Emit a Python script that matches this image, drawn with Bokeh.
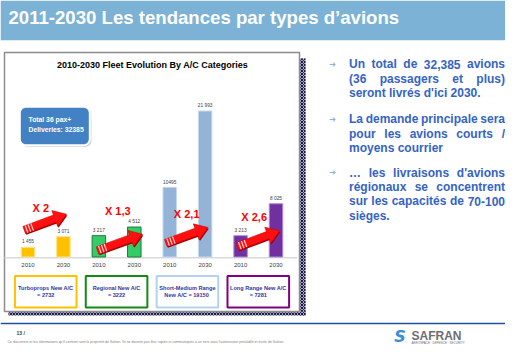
import math
from bokeh.plotting import figure
from bokeh.models import Range1d
from bokeh.core.properties import value
from bokeh.embed import file_html
from bokeh.resources import INLINE

# ---------------- data ----------------
categories = ["Turboprops", "Regional", "Short-Medium Range", "Long Range"]
years = ["2010", "2030"]
fleet_2010 = [1455, 3217, 10495, 3213]
fleet_2030 = [3071, 4512, 21993, 8025]
labels_2010 = ["1 455", "3 217", "10495", "3 213"]
labels_2030 = ["3 071", "4 512", "21 993", "8 025"]
growth_labels = ["X 2", "X 1,3", "X 2,1", "X 2,6"]
box_line1 = ["Turboprops New A/C", "Regional New A/C", "Short-Medium Range", "Long Range New A/C"]
box_line2 = ["= 2732", "= 3222", "New A/C  = 19150", "= 7281"]
total_text = ["Total 36 pax+", "Deliveries: 32385"]
slide_title = "2011-2030 Les tendances par types d\u2019avions"
chart_title = "2010-2030 Fleet Evolution By A/C Categories"
bullets = [
    ["Un total de 32,385 avions", "(36 passagers et plus)", "seront livrés d'ici 2030."],
    ["La demande principale sera", "pour les avions courts /", "moyens courrier"],
    ["\u2026 les livraisons d'avions", "régionaux se concentrent", "sur les capacités de 70-100", "sièges."],
]
page_number = "13 /"
disclaimer = ("Ce document et les informations qu'il contient sont la propriété de Safran. "
              "Ils ne doivent pas être copiés ni communiqués à un tiers sans l'autorisation préalable et écrite de Safran.")

# ---------------- styles / layout ----------------
FONT = value("Liberation Sans")
fill_colors = ["#FFC000", "#33CC66", "#95B3D7", "#7030A0"]
edge_colors = ["#FFE38A", "#1E7B3A", "#C5D9F1", "#B48CD2"]
box_colors = ["#FFC000", "#138A13", "#B4D2F0", "#800080"]
TEXT_BLUE = "#3563C4"

W, H = 505, 344
p = figure(width=W, height=H, x_range=Range1d(8, 8 + W), y_range=Range1d(8 + H, 8),
           output_backend="svg", toolbar_location=None, min_border=0,
           x_axis_location=None, y_axis_location=None, outline_line_color=None,
           background_fill_color="white", border_fill_color="white")
p.grid.visible = False

# header band + title
p.quad(left=8, right=8 + W, top=8, bottom=47.7, fill_color="#7BB2D5", line_color=None)
p.text(x=[16], y=[24.5], text=[slide_title], text_font=FONT, text_font_style="bold",
       text_font_size="18.6px", text_color="white", text_baseline="middle", text_align="left")

# chart panel with dotted shadow
p.quad(left=[307, 16], right=[313, 313], top=[66, 319], bottom=[323, 323],
       fill_color="#A8A8BC", line_color=None, hatch_pattern="x", hatch_color="#1A1A48",
       hatch_scale=3, hatch_weight=1)
p.quad(left=12, right=307, top=60, bottom=319, fill_color="white", line_color="#8C8C8C", line_width=1.5)
p.text(x=[160], y=[72], text=[chart_title], text_font=FONT, text_font_style="bold",
       text_font_size="9px", text_color="black", text_baseline="middle", text_align="center")

# rounded "total" box
def rounded_rect(l, r, t, b, rad, n=6):
    xs, ys = [], []
    corners = [(r - rad, t + rad, -90, 0), (r - rad, b - rad, 0, 90),
               (l + rad, b - rad, 90, 180), (l + rad, t + rad, 180, 270)]
    for cx, cy, a0, a1 in corners:
        for k in range(n + 1):
            a = math.radians(a0 + (a1 - a0) * k / n)
            xs.append(cx + rad * math.cos(a))
            ys.append(cy + rad * math.sin(a))
    return xs, ys

sx, sy = rounded_rect(28.8, 98.8, 115.8, 154.2, 6)
p.patch(sx, sy, fill_color="#A0A0A0", fill_alpha=0.6, line_color=None)
bx, by = rounded_rect(27.3, 97.3, 114.3, 152.7, 6)
p.patch(bx, by, fill_color="#4281C3", line_color="white", line_width=2)
p.text(x=[36, 36], y=[127.3, 136.7], text=total_text, text_font=FONT, text_font_style="bold",
       text_font_size="6.8px", text_color="white", text_baseline="middle", text_align="left")

# bars (value scale on an extra range)
BASE_Y, TOP_Y = 264.5, 118.5
vmax = max(fleet_2010 + fleet_2030)
upp = vmax / (BASE_Y - TOP_Y)
p.extra_y_ranges = {"val": Range1d(start=-(8 + H - BASE_Y) * upp, end=(BASE_Y - 8) * upp)}

X_FIRST, STEP, BAR_W = 35.5, 35.43, 13.5
xs_2010 = [X_FIRST + STEP * 2 * g for g in range(len(categories))]
xs_2030 = [x + STEP for x in xs_2010]

p.segment(x0=[12], x1=[305], y0=[265.3], y1=[265.3], line_color="#D9D9D9", line_width=1.5)
for xs, vals in ((xs_2010, fleet_2010), (xs_2030, fleet_2030)):
    p.vbar(x=xs, width=BAR_W, top=vals, bottom=0, y_range_name="val",
           fill_color=fill_colors, line_color=edge_colors, line_width=1)

for xs, vals, labs in ((xs_2010, fleet_2010, labels_2010), (xs_2030, fleet_2030, labels_2030)):
    p.text(x=xs, y=[v + 3 * upp for v in vals], text=labs, y_range_name="val",
           text_font=FONT, text_font_size="4.8px", text_color="#404040",
           text_baseline="bottom", text_align="center")

year_x = []
year_t = []
for g in range(len(categories)):
    year_x += [xs_2010[g], xs_2030[g]]
    year_t += years
p.text(x=year_x, y=[272.7] * len(year_x), text=year_t, text_font=FONT, text_font_size="6px",
       text_color="#404040", text_baseline="middle", text_align="center")

# growth arrows
arrow_ends = [((31.7, 237.5), (74.0, 221.7)), ((105.0, 258.0), (150.0, 241.7)),
              ((173.3, 250.5), (215.5, 235.0)), ((245.0, 254.0), (287.0, 238.3))]
label_pos = [(48.3, 215.0), (125.3, 218.3), (194.2, 221.7), (261.7, 224.3)]

def arrow_poly(t, h, hw=3.8, hh=8.5, hl=12.5, dx=0.0, dy=0.0):
    (x0, y0), (x1, y1) = t, h
    L = math.hypot(x1 - x0, y1 - y0)
    ux, uy = (x1 - x0) / L, (y1 - y0) / L
    nx, ny = -uy, ux
    neck = (x1 - ux * hl, y1 - uy * hl)
    pts = [(x0 + nx * hw, y0 + ny * hw), (neck[0] + nx * hw, neck[1] + ny * hw),
           (neck[0] + nx * hh, neck[1] + ny * hh), (x1, y1),
           (neck[0] - nx * hh, neck[1] - ny * hh), (neck[0] - nx * hw, neck[1] - ny * hw),
           (x0 - nx * hw, y0 - ny * hw)]
    return [q[0] + dx for q in pts], [q[1] + dy for q in pts]

shadow_xs, shadow_ys, main_xs, main_ys = [], [], [], []
sx0, sx1, sy0, sy1 = [], [], [], []
for t, h in arrow_ends:
    a, b = arrow_poly(t, h, dx=0.8, dy=1.3)
    shadow_xs.append(a); shadow_ys.append(b)
    a, b = arrow_poly(t, h)
    main_xs.append(a); main_ys.append(b)
    L = math.hypot(h[0] - t[0], h[1] - t[1])
    ux, uy = (h[0] - t[0]) / L, (h[1] - t[1]) / L
    nx, ny = -uy, ux
    for d in (2.5, 5.5, 8.5):
        cx, cy = t[0] + ux * d, t[1] + uy * d
        sx0.append(cx - nx * 3.8); sy0.append(cy - ny * 3.8)
        sx1.append(cx + nx * 3.8); sy1.append(cy + ny * 3.8)
p.patches(xs=shadow_xs, ys=shadow_ys, fill_color="#A00000", line_color=None)
p.patches(xs=main_xs, ys=main_ys, fill_color="#FF1010", line_color="#D00000", line_width=0.6)
p.segment(x0=sx0, y0=sy0, x1=sx1, y1=sy1, line_color="#FFD6D6", line_width=1.2)
p.text(x=[q[0] for q in label_pos], y=[q[1] for q in label_pos], text=growth_labels,
       text_font=FONT, text_font_style="bold", text_font_size="11px", text_color="#FF0000",
       text_baseline="middle", text_align="center")

# category boxes
centers = [(a + b) / 2 for a, b in zip(xs_2010, xs_2030)]
p.quad(left=[c - 30.8 for c in centers], right=[c + 30.8 for c in centers],
       top=283.5, bottom=315, fill_color="white", line_color=box_colors, line_width=2)
p.text(x=centers, y=[295.0] * 4, text=box_line1, text_font=FONT, text_font_style="bold",
       text_font_size="5.6px", text_color="#34349A", text_baseline="middle", text_align="center")
p.text(x=centers, y=[302.3] * 4, text=box_line2, text_font=FONT, text_font_style="bold",
       text_font_size="5.6px", text_color="#34349A", text_baseline="middle", text_align="center")

# right-hand bullet text (justified, Arial/Liberation Sans Bold metrics)
AW = {" ": 278, "(": 333, ")": 333, ",": 278, "-": 333, ".": 278, "/": 278, "'": 238,
      "\u2026": 1000, "L": 611, "U": 722,
      "a": 556, "b": 611, "c": 556, "d": 611, "e": 556, "f": 333, "g": 611, "h": 611,
      "i": 278, "l": 278, "m": 889, "n": 611, "o": 611, "p": 611, "r": 389, "s": 556,
      "t": 333, "u": 611, "v": 556, "x": 556, "y": 556, "é": 556, "è": 556}

def tw(s, size):
    return sum(AW.get(c, 556) for c in s) / 1000.0 * size

FS = 12
LX, RX = 356.5, 512.5
LH = 14.3
block_y = [71.7, 126.7, 180.3]
wx, wy, wt = [], [], []
for lines, y0 in zip(bullets, block_y):
    for i, line in enumerate(lines):
        y = y0 + i * LH
        words = line.split(" ")
        last = (i == len(lines) - 1)
        if last or len(words) == 1:
            wx.append(LX); wy.append(y); wt.append(line)
        else:
            widths = [tw(w, FS) for w in words]
            gap = (RX - LX - sum(widths)) / (len(words) - 1)
            x = LX
            for w, ww in zip(words, widths):
                wx.append(x); wy.append(y); wt.append(w)
                x += ww + gap
p.text(x=wx, y=wy, text=wt, text_font=FONT, text_font_style="bold", text_font_size="12px",
       text_color=TEXT_BLUE, text_baseline="middle", text_align="left")
p.text(x=[340] * 3, y=block_y, text=["\u2794"] * 3, text_font=value("DejaVu Sans"),
       text_font_size="8px", text_color="#8DB0CB", text_baseline="middle", text_align="center")

# footer
p.segment(x0=[8], x1=[8 + W], y0=[331], y1=[331], line_color="#1F4E9A", line_width=1.5)
p.text(x=[24], y=[340.7], text=[page_number], text_font=FONT, text_font_style="bold",
       text_font_size="5px", text_color="#404040", text_baseline="middle", text_align="left")
p.text(x=[15], y=[349.3], text=[disclaimer], text_font=FONT, text_font_size="3.5px",
       text_color="#808080", text_baseline="middle", text_align="left")
p.text(x=[407.5], y=[343.5], text=["S"], text_font=value("DejaVu Sans"), text_font_style="bold italic",
       text_font_size="16px", text_color="#3C8DD6", text_baseline="middle", text_align="center")
p.text(x=[419], y=[343.0], text=["SAFRAN"], text_font=FONT, text_font_style="bold",
       text_font_size="12px", text_color="#6D6E71", text_baseline="middle", text_align="left")
p.text(x=[419], y=[350.0], text=["AEROSPACE \u00b7 DEFENCE \u00b7 SECURITY"], text_font=FONT,
       text_font_size="3px", text_color="#6D6E71", text_baseline="middle", text_align="left")

open("out.html", "w").write(file_html(p, INLINE))
